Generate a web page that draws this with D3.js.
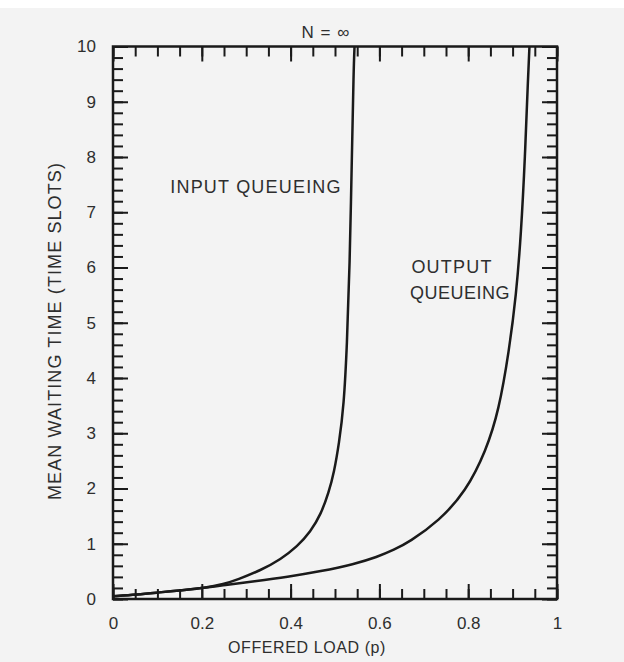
<!DOCTYPE html>
<html>
<head>
<meta charset="utf-8">
<script src="https://cdn.jsdelivr.net/npm/d3@7"></script>
<style>
  body { margin: 0; background: #fff; }
  svg { display: block; font-family: "Liberation Sans", Arial, sans-serif; }
</style>
</head>
<body>
<svg width="624" height="662"></svg>
<script>
// values
var inputLoad  = [0, 0.055, 0.104, 0.156, 0.205, 0.25, 0.28, 0.333, 0.378, 0.415, 0.445, 0.468, 0.486, 0.498, 0.509, 0.52, 0.527, 0.533, 0.538, 0.542, 0.544];
var inputWait  = [0.05, 0.08, 0.12, 0.16, 0.2, 0.27, 0.35, 0.52, 0.72, 0.95, 1.22, 1.53, 1.93, 2.3, 2.81, 3.5, 4.6, 6.0, 8.0, 9.6, 10];
var outputLoad = [0, 0.055, 0.104, 0.156, 0.205, 0.25, 0.318, 0.393, 0.468, 0.543, 0.595, 0.633, 0.667, 0.734, 0.795, 0.84, 0.869, 0.892, 0.908, 0.919, 0.928, 0.935, 0.938];
var outputWait = [0.05, 0.08, 0.12, 0.16, 0.2, 0.25, 0.32, 0.4, 0.5, 0.63, 0.76, 0.89, 1.03, 1.41, 1.95, 2.68, 3.41, 4.49, 5.5, 6.6, 8.0, 9.5, 10];
var xTicks = [0, 0.2, 0.4, 0.6, 0.8, 1];
var yTicks = [0, 1, 2, 3, 4, 5, 6, 7, 8, 9, 10];

var svg = d3.select("svg"),
    width = +svg.attr("width"),
    height = +svg.attr("height");

var ink = "#1a1a1a", txt = "#2e2e2e";

// paper background
svg.append("rect").attr("x", 0).attr("y", 8).attr("width", width).attr("height", height - 8).attr("fill", "#f3f3f3");

var x = d3.scaleLinear().domain([0, 1]).range([113, 557]);
var y = d3.scaleLinear().domain([0, 10]).range([599, 46.5]);

var minorX = d3.range(0, 1.0001, 0.05), minorY = d3.range(0, 10.0001, 0.2);

function styleAxis(g) {
  g.select(".domain").remove();
  g.selectAll(".tick line").attr("stroke", ink).attr("stroke-width", 2);
}

// bottom + top ticks (pointing inward)
svg.append("g").attr("transform", "translate(0," + y(0) + ")")
  .call(d3.axisBottom(x).tickValues(minorX).tickSize(-10).tickFormat(""))
  .call(styleAxis);
svg.append("g").attr("transform", "translate(0," + y(0) + ")")
  .call(d3.axisBottom(x).tickValues(xTicks).tickSize(-15).tickPadding(18).tickFormat(d3.format("")))
  .call(styleAxis)
  .selectAll("text").attr("font-size", 17).attr("fill", txt);
svg.append("g").attr("transform", "translate(0," + y(10) + ")")
  .call(d3.axisTop(x).tickValues(minorX).tickSize(-10).tickFormat(""))
  .call(styleAxis);
svg.append("g").attr("transform", "translate(0," + y(10) + ")")
  .call(d3.axisTop(x).tickValues(xTicks).tickSize(-15).tickFormat(""))
  .call(styleAxis);

// left + right ticks
svg.append("g").attr("transform", "translate(" + x(0) + ",0)")
  .call(d3.axisLeft(y).tickValues(minorY).tickSize(-10).tickFormat(""))
  .call(styleAxis);
svg.append("g").attr("transform", "translate(" + x(0) + ",0)")
  .call(d3.axisLeft(y).tickValues(yTicks).tickSize(-15).tickPadding(17).tickFormat(d3.format("")))
  .call(styleAxis)
  .selectAll("text").attr("font-size", 17).attr("fill", txt);
svg.append("g").attr("transform", "translate(" + x(1) + ",0)")
  .call(d3.axisRight(y).tickValues(minorY).tickSize(-10).tickFormat(""))
  .call(styleAxis);
svg.append("g").attr("transform", "translate(" + x(1) + ",0)")
  .call(d3.axisRight(y).tickValues(yTicks).tickSize(-15).tickFormat(""))
  .call(styleAxis);

// frame
svg.append("rect")
  .attr("x", x(0)).attr("y", y(10))
  .attr("width", x(1) - x(0)).attr("height", y(0) - y(10))
  .attr("fill", "none").attr("stroke", ink).attr("stroke-width", 2.5);

// curves - smoothed through the read points
var line = d3.line()
  .x(function(d) { return x(d[0]); })
  .y(function(d) { return y(d[1]); })
  .curve(d3.curveBasis);

var series = [d3.zip(inputLoad, inputWait), d3.zip(outputLoad, outputWait)];
svg.append("g").selectAll("path")
  .data(series)
  .enter().append("path")
  .attr("d", line)
  .attr("fill", "none")
  .attr("stroke", ink)
  .attr("stroke-width", 2.5);

// labels
function label(px, py, size, s, spacing) {
  return svg.append("text").attr("x", px).attr("y", py).attr("text-anchor", "middle")
    .attr("font-size", size).attr("letter-spacing", spacing || 0).attr("fill", txt).text(s);
}
label(326, 38, 17, "N = \u221e", 1);
label(256, 193, 18, "INPUT QUEUEING", 1.2);
label(452, 273, 18, "OUTPUT", 1.2);
label(460, 299, 18, "QUEUEING", 0.5);
label(307, 653, 16, "OFFERED LOAD (p)", 0.6);
svg.append("text").attr("transform", "translate(55,331) rotate(-90)").attr("dy", "0.35em")
  .attr("text-anchor", "middle").attr("font-size", 18).attr("letter-spacing", 1.1)
  .attr("fill", txt).text("MEAN WAITING TIME (TIME SLOTS)");
</script>
</body>
</html>
